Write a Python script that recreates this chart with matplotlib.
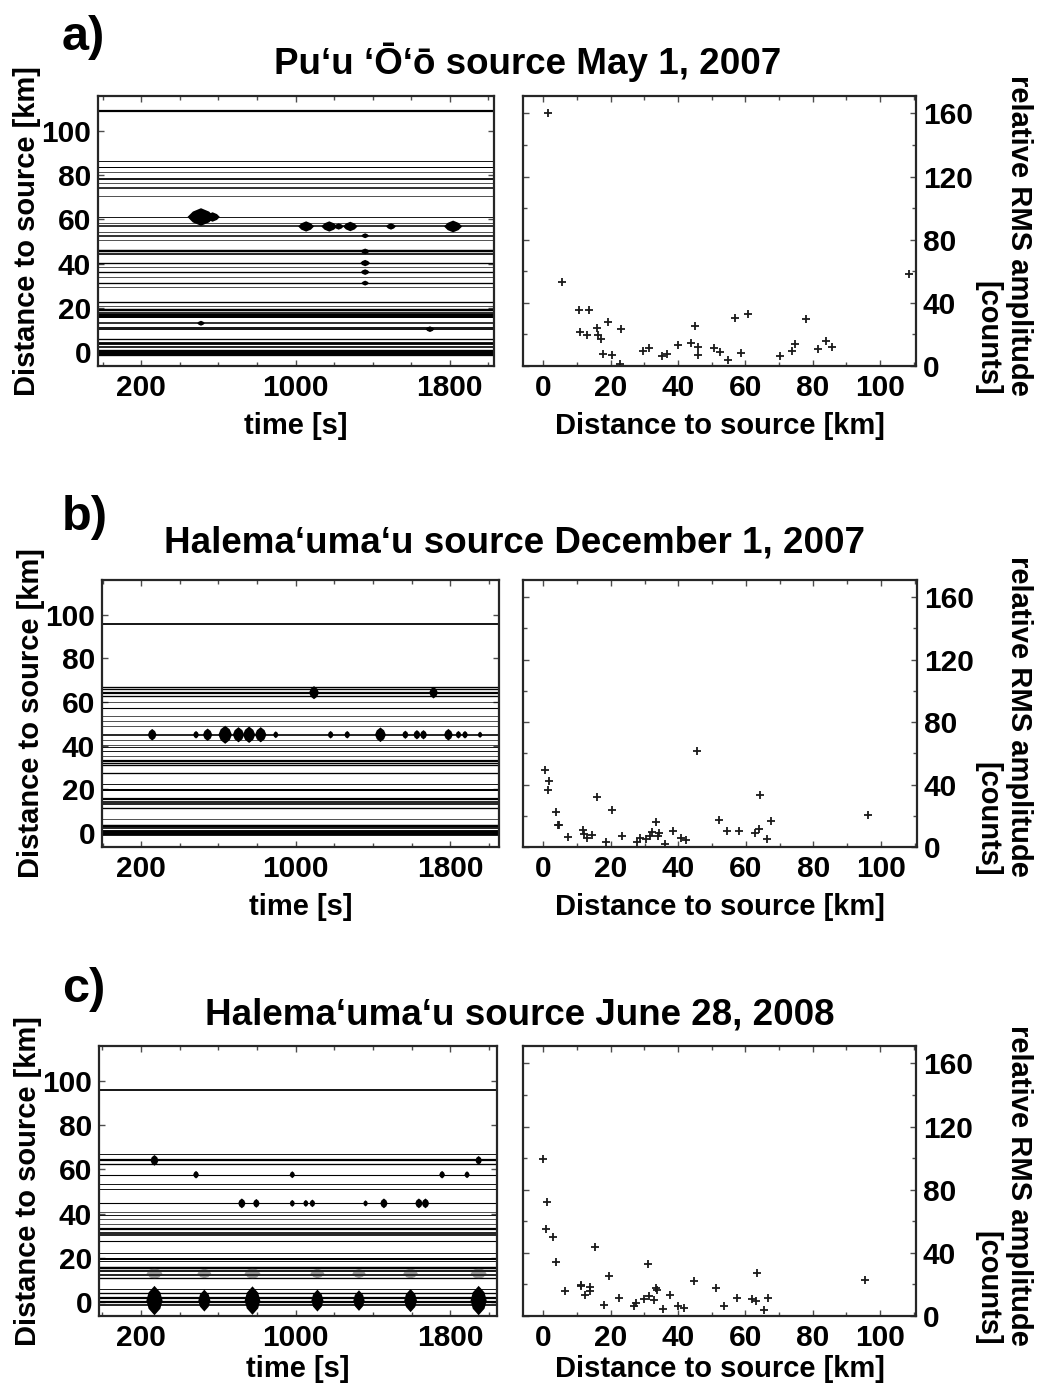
import matplotlib
matplotlib.use("Agg")
import matplotlib.pyplot as plt

plt.rcParams['font.family'] = ['Liberation Sans', 'DejaVu Sans']
plt.rcParams['font.weight'] = 'bold'

W, H = 1039, 1388

titles = ["Pu\u2018u \u2018\u014c\u2018\u014d source May 1, 2007",
          "Halema\u2018uma\u2018u source December 1, 2007",
          "Halema\u2018uma\u2018u source June 28, 2008"]
panel_labels = ["a)", "b)", "c)"]

# ---------------- station traces (distance [km], trace thickness) ----------------
dist_a = [109, 86.4, 83.8, 81.4, 78.3, 76.5, 74.2, 70.5, 61.1, 58.6, 56.8, 54.5, 52.6,
          50.8, 45.5, 44.4, 40.2, 38.2, 36.1, 34.1, 31.1, 29.2, 22.7, 20.8, 18.9, 17.7,
          16.5, 15.6, 12.9, 11.4, 10.2, 5.6, 3.8, 2.3, 0.5, -1.1]
lw_a = [2.0, 0.8, 0.9, 0.6, 1.6, 0.6, 1.4, 0.6, 0.8, 0.6, 1.4, 0.6, 1.4,
        0.6, 2.2, 1.5, 1.2, 0.6, 1.2, 0.6, 1.2, 0.6, 1.2, 0.6, 2.2, 1.5,
        2.0, 1.8, 1.4, 0.8, 1.6, 1.2, 2.5, 1.5, 3.0, 3.0]

dist_b = [95.8, 66.8, 66.0, 64.3, 63.0, 60.0, 57.5, 53.7, 51.4, 49.2, 45.0, 42.7, 40.1,
          39.2, 37.7, 35.4, 32.9, 32.1, 30.9, 27.6, 22.3, 19.8, 15.5, 14.3, 13.3, 11.3,
          6.5, 3.2, 2.0, 0.5, -0.6]
lw_b = [1.6, 1.2, 1.2, 2.0, 1.2, 0.6, 1.0, 0.6, 0.6, 0.6, 1.5, 0.6, 0.6,
        0.8, 0.8, 0.6, 2.0, 1.2, 1.2, 1.2, 0.8, 1.8, 2.0, 1.5, 1.5, 1.2,
        0.6, 2.2, 1.5, 3.5, 2.5]

dist_c = [96.2, 66.9, 64.1, 62.6, 57.6, 53.4, 51.1, 44.6, 40.5, 39.4, 37.4, 35.4, 32.8,
          31.3, 30.2, 27.5, 22.1, 19.5, 18.3, 15.3, 13.7, 12.2, 10.7, 5.8, 3.8, 1.8,
          0.0, -1.5]
lw_c = [1.6, 0.8, 2.0, 1.2, 1.0, 0.8, 0.8, 1.0, 0.6, 0.8, 0.6, 0.6, 2.0,
        1.5, 1.5, 1.0, 0.8, 1.8, 0.8, 2.2, 1.6, 1.5, 1.2, 0.8, 1.2, 2.0,
        2.0, 1.5]

# ---------------- bursts on traces (time [s], distance [km], size) ----------------
burst_t_a = [510, 570, 1055, 1175, 1224, 1284, 1495, 1817, 1361, 1361, 1361, 1361, 1361, 1697, 510]
burst_d_a = [61.1, 61.1, 56.8, 56.8, 56.8, 56.8, 56.8, 56.8, 52.6, 45.5, 40.2, 36.1, 31.1, 10.2, 12.9]
burst_s_a = [380, 110, 130, 130, 50, 110, 50, 170, 30, 40, 50, 40, 30, 40, 30]

burst_t_b = [257, 484, 544, 635, 704, 759, 819, 897, 1181, 1267, 1439, 1568, 1628, 1662,
             1791, 1843, 1877, 1955, 1095, 1714]
burst_d_b = [45, 45, 45, 45, 45, 45, 45, 45, 45, 45, 45, 45, 45, 45,
             45, 45, 45, 45, 64.3, 64.3]
burst_s_b = [70, 30, 80, 170, 120, 140, 120, 25, 30, 30, 110, 35, 45, 45,
             70, 30, 30, 20, 90, 70]

burst_t_c = [721, 796, 982, 1052, 1086, 1361, 1456, 1637, 1671,
             484, 982, 1757, 1886, 269, 1946]
burst_d_c = [44.6, 44.6, 44.6, 44.6, 44.6, 44.6, 44.6, 44.6, 44.6,
             57.6, 57.6, 57.6, 57.6, 64.1, 64.1]
burst_s_c = [50, 40, 25, 25, 30, 20, 50, 50, 50,
             30, 25, 30, 25, 60, 40]

# large tremor bursts near the source (row c) and their echo at ~13 km
big_t_c = [269, 527, 776, 1112, 1327, 1594, 1946]
big_d_c = [0.5, 0.5, 0.5, 0.5, 0.5, 0.5, 0.5]
big_s_c = [450, 250, 420, 250, 220, 280, 450]
band_d_c = [12.8, 12.8, 12.8, 12.8, 12.8, 12.8, 12.8]
band_s_c = [130, 100, 130, 100, 90, 110, 130]

# ---------------- relative RMS amplitude vs distance ----------------
rms_x_a = [1.5, 5.7, 10.7, 13.5, 11.0, 13.0, 16.0, 16.3, 17.3, 19.3, 17.8, 20.3, 22.8, 23.0,
           29.5, 31.5, 35.2, 36.7, 40.1, 43.9, 45.1, 46.1, 46.1, 50.7, 52.6, 54.8, 56.9,
           58.8, 60.7, 70.4, 73.9, 74.7, 78.1, 81.5, 83.9, 85.9, 108.7]
rms_y_a = [160, 53, 35.6, 35.2, 21.8, 19.8, 23.9, 19.8, 17.0, 27.7, 7.9, 7.0, 1.5, 23.5,
           9.6, 11.3, 6.2, 7.9, 13.4, 14.7, 25.2, 12.2, 7.0, 11.3, 9.0, 4.0, 30.3,
           8.3, 33.0, 6.2, 9.2, 13.9, 29.7, 10.9, 15.6, 12.2, 58.2]

rms_x_b = [0.6, 1.6, 1.5, 3.8, 4.3, 4.6, 7.2, 11.9, 12.0, 13.1, 14.5, 16.0, 18.6, 20.3,
           23.2, 27.7, 28.7, 30.5, 31.7, 32.2, 33.4, 34.0, 34.3, 36.2, 38.3, 40.7, 42.3,
           45.4, 52.0, 54.3, 58.1, 62.7, 63.9, 64.3, 66.3, 67.5, 96.3]
rms_y_b = [49.2, 42.0, 36.7, 22.7, 14.4, 13.8, 6.4, 11.0, 8.5, 5.7, 7.4, 31.8, 3.2, 23.9,
           6.8, 3.2, 5.7, 5.1, 6.8, 9.5, 15.9, 7.2, 8.9, 2.1, 10.2, 5.9, 4.7,
           61.2, 17.4, 10.2, 10.2, 8.9, 11.4, 33.3, 5.3, 16.7, 20.8]

rms_x_c = [-0.1, 1.0, 0.8, 3.0, 3.7, 6.4, 11.1, 11.2, 12.5, 13.9, 14.0, 15.4, 18.0, 19.5,
           22.4, 27.1, 27.7, 29.8, 31.1, 31.5, 32.9, 33.4, 33.7, 35.7, 37.7, 40.0, 41.7,
           44.8, 51.2, 53.6, 57.5, 62.0, 63.2, 63.5, 65.7, 66.8, 95.6]
rms_y_c = [99.6, 72.0, 54.9, 50.0, 34.0, 16.0, 19.6, 18.8, 13.3, 18.2, 15.6, 43.9, 7.0, 25.6,
           11.4, 6.3, 8.4, 10.8, 32.9, 12.5, 10.1, 17.7, 16.3, 4.6, 13.3, 6.5, 4.9,
           22.2, 18.0, 6.1, 11.6, 11.0, 9.3, 27.2, 3.8, 11.6, 22.6]

dists = [dist_a, dist_b, dist_c]
widths = [lw_a, lw_b, lw_c]
bursts = [(burst_t_a, burst_d_a, burst_s_a),
          (burst_t_b, burst_d_b, burst_s_b),
          (burst_t_c, burst_d_c, burst_s_c)]
rms = [(rms_x_a, rms_y_a), (rms_x_b, rms_y_b), (rms_x_c, rms_y_c)]

# layout in pixels: (left x0, x1, right x0, x1, y top, y bottom)
boxes = [(98, 494, 523, 916, 96, 366),
         (102, 499, 523, 917, 580, 847),
         (99, 497, 523, 916, 1046, 1316)]
time_lims = [(-24, 2029), (-3, 2053), (-18, 2041)]
title_x = [528, 515, 520]
title_y = [62, 543, 1015]
label_y = [37, 518, 990]
xlabel_pad = [7, 7, 2]

# marker outlines for the burst envelopes
spindle = [(-1, 0), (-0.6, 0.4), (0, 0.65), (0.6, 0.4), (1, 0),
           (0.6, -0.4), (0, -0.65), (-0.6, -0.4), (-1, 0)]
blob = [(0, -1), (0.5, -0.6), (0.75, 0), (0.5, 0.6), (0, 1),
        (-0.5, 0.6), (-0.75, 0), (-0.5, -0.6), (0, -1)]
smear = [(-1, 0), (-0.6, 0.5), (0, 0.7), (0.6, 0.5), (1, 0),
         (0.6, -0.5), (0, -0.7), (-0.6, -0.5), (-1, 0)]
tall = [(0, -1), (0.4, -0.55), (0.55, 0), (0.4, 0.55), (0, 1),
        (-0.4, 0.55), (-0.55, 0), (-0.4, -0.55), (0, -1)]
burst_marker = [spindle, blob, blob]

FS = 21.5
LFS = 21
fig = plt.figure(figsize=(W / 100, H / 100), dpi=100)


def px_axes(x0, x1, y0, y1):
    return fig.add_axes([x0 / W, 1 - y1 / H, (x1 - x0) / W, (y1 - y0) / H])


def style(ax):
    for s in ax.spines.values():
        s.set_linewidth(1.6)
        s.set_color('0.15')
    ax.tick_params(which='both', direction='in', top=True, right=True,
                   labelsize=FS, width=1.0, color='0.3', pad=6)
    ax.tick_params(which='major', length=4)
    ax.tick_params(which='minor', length=3)


for i in range(3):
    lx0, lx1, rx0, rx1, yt, yb = boxes[i]

    # ---- seismogram section ----
    ax = px_axes(lx0, lx1, yt, yb)
    t0, t1 = time_lims[i]
    ax.hlines(dists[i], t0, t1, colors='k', linewidths=[w * 0.8 for w in widths[i]])
    bt, bd, bs = bursts[i]
    ax.scatter(bt, bd, s=bs, marker=burst_marker[i], c='k', linewidths=0, zorder=3)
    if i == 2:
        ax.scatter(big_t_c, band_d_c, s=band_s_c, marker=smear,
                   c='0.15', linewidths=0, alpha=0.45, zorder=3)
        ax.scatter(big_t_c, big_d_c, s=big_s_c, marker=tall, c='k', linewidths=0, zorder=3)
    ax.set_xlim(t0, t1)
    ax.set_ylim(-6.5, 116)
    ax.set_xticks(range(0, 2001, 200), minor=True)
    ax.set_xticks([200, 1000, 1800])
    ax.set_yticks(range(0, 101, 20))
    style(ax)
    ax.tick_params(axis='y', pad=5)
    ax.set_xlabel("time [s]", fontsize=LFS, fontweight='bold', labelpad=xlabel_pad[i])
    ax.set_ylabel("Distance to source [km]", fontsize=LFS, fontweight='bold', labelpad=0)

    # ---- RMS amplitude ----
    ax2 = px_axes(rx0, rx1, yt, yb)
    ax2.plot(rms[i][0], rms[i][1], '+', color='0.1', markersize=5.5, mew=1.3)
    ax2.set_xlim(-6, 110.7)
    ax2.set_ylim(0, 171)
    ax2.set_xticks(range(0, 101, 20))
    ax2.set_xticks(range(0, 111, 10), minor=True)
    ax2.set_yticks(range(0, 161, 40))
    ax2.set_yticks(range(0, 171, 20), minor=True)
    style(ax2)
    ax2.yaxis.tick_right()
    ax2.tick_params(which='both', left=True, right=True, labelleft=False, labelright=True)
    ax2.tick_params(axis='y', pad=5)
    ax2.set_xlabel("Distance to source [km]", fontsize=LFS, fontweight='bold',
                   labelpad=xlabel_pad[i])

    # right-hand label: two lines, both ending at the same height
    y_end = 1 - (yb + 30) / H
    fig.text(1019 / W, y_end, "relative RMS amplitude", rotation=270, ha='center',
             va='bottom', fontsize=LFS, fontweight='bold')
    fig.text(987 / W, y_end, "[counts]", rotation=270, ha='center',
             va='bottom', fontsize=LFS, fontweight='bold')

    fig.text(title_x[i] / W, 1 - title_y[i] / H, titles[i], ha='center', va='center',
             fontsize=26.5, fontweight='bold',
             family=['Liberation Sans Narrow', 'Liberation Sans', 'DejaVu Sans'])
    fig.text(62 / W, 1 - label_y[i] / H, panel_labels[i], ha='left', va='center',
             fontsize=35, fontweight='bold',
             family=['Liberation Sans Narrow', 'Liberation Sans', 'DejaVu Sans'])

fig.savefig("out.png", dpi=100)
